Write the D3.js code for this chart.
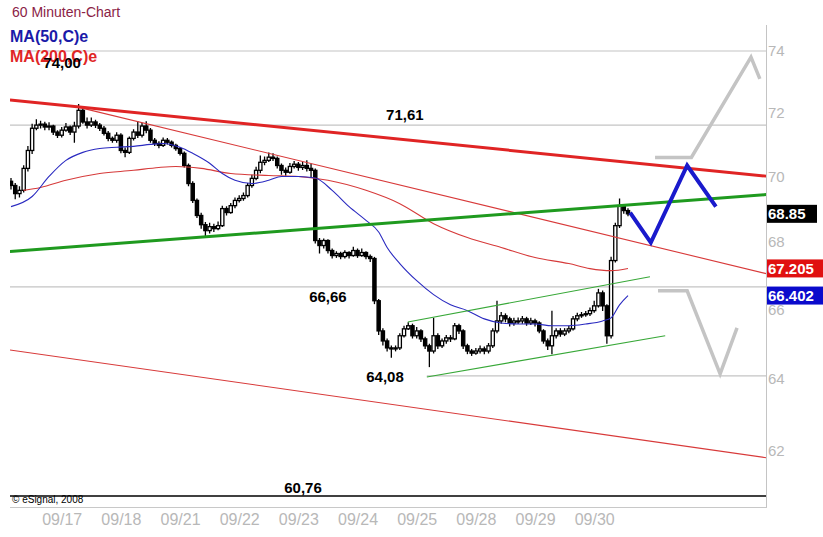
<!DOCTYPE html>
<html><head><meta charset="utf-8">
<script src="https://cdn.jsdelivr.net/npm/d3@7"></script>
<style>body{margin:0;background:#fff}svg{display:block}</style>
</head><body><svg id="c" width="823" height="537"></svg>
<script>
// ---------- DATA ----------
const firstOpen = 69.85;
const closes = [69.72,69.47,69.57,70.25,70.81,71.51,71.61,71.64,71.55,71.58,
71.39,71.29,71.45,71.55,71.39,71.58,72.08,71.71,71.61,71.71,
71.61,71.51,71.35,71.19,71.13,71.29,70.81,70.75,71.19,71.39,
71.29,71.58,71.45,71.13,71.03,70.97,71.13,71.07,70.97,70.87,
70.72,70.34,69.78,69.26,68.80,68.52,68.34,68.46,68.40,68.49,
69.01,68.89,69.10,69.26,69.32,69.41,69.72,69.94,70.19,70.44,
70.50,70.60,70.56,70.34,70.19,70.13,70.31,70.38,70.28,70.34,
70.25,70.19,68.04,67.89,68.04,67.74,67.59,67.65,67.56,67.68,
67.59,67.74,67.59,67.68,67.56,67.50,66.25,65.37,65.08,64.88,
64.85,64.88,65.23,65.43,65.52,65.23,65.37,65.14,64.94,64.79,
65.23,64.94,65.08,65.17,65.14,65.52,65.37,64.94,64.79,64.73,
64.79,64.85,64.79,64.94,65.37,65.66,65.81,65.72,65.60,65.66,
65.66,65.72,65.60,65.66,65.60,65.37,65.08,64.94,65.23,65.37,
65.28,65.37,65.43,65.72,65.81,65.84,65.87,65.96,66.10,66.48,
66.10,65.23,67.44,68.49,69.10,68.95,68.85];
const highs = [69.95,69.80,69.70,70.35,70.95,71.65,71.80,71.75,71.72,71.70,
71.62,71.45,71.55,71.68,71.60,71.72,72.28,72.20,71.85,71.85,
71.78,71.68,71.58,71.42,71.25,71.38,71.35,70.90,71.25,71.48,
71.73,71.68,71.73,71.52,71.20,71.10,71.22,71.20,71.12,71.02,
70.92,70.78,70.40,69.85,69.32,68.88,68.60,68.58,68.55,68.62,
69.10,69.08,69.18,69.35,69.42,69.50,69.80,70.05,70.30,70.65,
70.62,70.75,70.72,70.62,70.40,70.28,70.42,70.48,70.45,70.45,
70.50,70.40,70.25,68.12,68.10,68.08,67.80,67.72,67.70,67.75,
67.72,67.85,67.80,67.80,67.72,67.62,67.55,66.30,65.45,65.15,
64.95,64.95,65.30,65.52,65.62,65.58,65.48,65.42,65.20,65.00,
65.75,65.30,65.15,65.25,65.25,65.60,65.58,65.42,65.00,64.85,
64.88,64.95,64.92,65.02,65.45,66.25,65.92,65.88,65.78,65.75,
65.76,65.80,65.78,65.75,65.72,65.65,65.42,65.15,65.96,65.45,
65.45,65.45,65.52,65.80,65.90,65.92,65.95,66.05,66.25,66.60,
66.55,66.15,67.55,68.58,69.32,69.15,69.02];
const lows = [69.60,69.30,69.35,69.50,70.15,70.70,71.45,71.50,71.45,71.45,
71.30,71.20,71.22,71.40,71.30,71.05,71.50,71.65,71.50,71.55,
71.52,71.42,71.28,71.10,71.05,71.05,70.72,70.60,70.70,71.12,
71.20,71.22,71.35,71.05,70.95,70.88,70.92,71.00,70.90,70.80,
70.65,70.28,69.70,69.18,68.72,68.40,68.13,68.25,68.30,68.35,
68.45,68.80,68.85,69.02,69.20,69.25,69.35,69.65,69.88,70.10,
70.35,70.45,70.48,70.25,70.05,70.02,70.08,70.25,70.18,70.20,
70.15,69.95,67.95,67.65,67.80,67.65,67.50,67.52,67.48,67.50,
67.50,67.55,67.52,67.55,67.48,67.40,66.15,65.25,64.95,64.78,
64.60,64.78,64.82,65.18,65.40,65.15,65.15,65.05,64.85,64.33,
64.72,64.85,64.88,65.00,65.05,65.10,65.28,64.85,64.70,64.65,
64.68,64.72,64.70,64.72,64.88,65.30,65.58,65.62,65.50,65.52,
65.57,65.58,65.52,65.54,65.50,65.30,65.00,64.82,64.70,65.15,
65.20,65.22,65.30,65.38,65.65,65.75,65.78,65.80,65.90,66.05,
65.95,65.00,65.15,67.38,68.42,68.85,68.78];

const dayLabels = ["09/17","09/18","09/21","09/22","09/23","09/24","09/25","09/28","09/29","09/30"];
const dayLabelIdx = [12,26,40,54,68,82,96,110,124,138];
const yTicks = [74,72,70,68,66,64,62];

const ma50Idx = [0,5,9,13,17,21,25,29,33,36,40,43,47,50,53,57,61,64,68,72,76,80,84,87,89,92,96,100,104,108,112,116,120,124,128,132,136,140,142,144,146];
const ma50 = [69.07,69.38,70.00,70.50,70.75,70.87,70.91,70.94,71.00,71.03,70.91,70.72,70.41,70.09,69.88,69.78,69.88,70.00,70.00,69.95,69.57,69.07,68.65,68.30,67.83,67.35,66.84,66.43,66.13,65.96,65.72,65.60,65.57,65.57,65.52,65.52,65.57,65.66,65.75,66.13,66.40];
const ma200Idx = [3,7,13,21,29,35,39,45,52,61,68,75,84,92,100,108,116,124,132,137,142,146];
const ma200 = [69.57,69.66,69.88,70.09,70.19,70.28,70.31,70.25,70.09,70.03,70.00,69.88,69.57,69.16,68.55,68.13,67.83,67.53,67.35,67.20,67.14,67.205];

// trend lines as [bar index, price]
const redThick = [[-0.24,72.41],[178.7,70.01]];
const redThinUpper = [[15.6,72.19],[178.7,67.05]];
const greenThick = [[-0.24,67.71],[178.7,69.44]];
const redThinLower = [[-0.24,64.82],[178.7,61.80]];
const channelUpper = [[93.9,65.63],[151.2,66.96]];
const channelLower = [[98.4,64.05],[154.8,65.23]];
const blueForecast = [[146.5,68.89],[151.4,67.98],[160.0,70.34],[166.8,69.07]];
const greyUp = [[152.4,70.59],[161.0,70.59],[175.1,73.80],[177.2,73.09]];
const greyDown = [[153.1,66.54],[160.0,66.54],[167.8,64.14],[171.8,65.46]];

const levels = [74.00,71.61,66.66,64.08,60.76];
const levelStart = [-0.24,-0.24,-0.24,98.4,-0.24];
const levelLabels = ["74,00","71,61","66,66","64,08","60,76"];
const levelLabelIdx = [12.1,93.2,75.0,88.5,69.1];

const lastClose = 68.85, lastMa200 = 67.205, lastMa50 = 66.402;

// ---------- CHART ----------
const svg = d3.select("#c");
const x = d3.scaleLinear().domain([0,146]).range([11,628]);
const y = d3.scaleLog().domain([60.76,74]).range([496,51]);
const xEnd = x.invert(766);

svg.append("defs").append("clipPath").attr("id","pc")
  .append("rect").attr("x",10).attr("y",25).attr("width",756.5).attr("height",483);

const plot = svg.append("g").attr("clip-path","url(#pc)");
const line = d3.line().x(d=>x(d[0])).y(d=>y(d[1]));

// level lines
levels.forEach((v,i)=>{
  plot.append("line")
    .attr("x1",x(levelStart[i])).attr("x2",x(xEnd))
    .attr("y1",y(v)).attr("y2",y(v))
    .attr("stroke", v===60.76 ? "#000" : "#c4c4c4")
    .attr("stroke-width", v===60.76 ? 1.5 : 1.2);
});

// candles
const candles = plot.append("g");
closes.forEach((c,i)=>{
  const o = i===0 ? firstOpen : closes[i-1];
  const cx = x(i);
  candles.append("line").attr("x1",cx).attr("x2",cx)
    .attr("y1",y(highs[i])).attr("y2",y(lows[i]))
    .attr("stroke","#000").attr("stroke-width",1.3);
  const top = y(Math.max(o,c)), bot = y(Math.min(o,c));
  candles.append("rect").attr("x",cx-1.6).attr("width",3.2)
    .attr("y",top).attr("height",Math.max(bot-top,1))
    .attr("fill", c>=o ? "#fff" : "#000")
    .attr("stroke","#000").attr("stroke-width",1.3);
});

// moving averages
const curve = d3.line().curve(d3.curveMonotoneX).x(d=>x(d[0])).y(d=>y(d[1]));
plot.append("path").datum(ma200Idx.map((d,i)=>[d,ma200[i]]))
  .attr("d",curve).attr("fill","none").attr("stroke","#d63a3a").attr("stroke-width",1.1);
plot.append("path").datum(ma50Idx.map((d,i)=>[d,ma50[i]]))
  .attr("d",curve).attr("fill","none").attr("stroke","#2a2ac0").attr("stroke-width",1.1);

// trend lines
const drawLine = (data,color,w)=>plot.append("path").datum(data).attr("d",line)
  .attr("fill","none").attr("stroke",color).attr("stroke-width",w)
  .attr("stroke-linejoin","miter");
drawLine(redThinUpper,"#d83a3a",1.1);
drawLine(redThinLower,"#d83a3a",1.1);
drawLine(channelUpper,"#38a838",1.1);
drawLine(channelLower,"#38a838",1.1);
drawLine(redThick,"#e02424",3);
drawLine(greenThick,"#1f9a1f",3);
drawLine(greyUp,"#c4c4c4",3.5);
drawLine(greyDown,"#c4c4c4",3.5);
drawLine(blueForecast,"#1a1acc",4);

// frame
svg.append("line").attr("x1",766.5).attr("x2",766.5).attr("y1",25).attr("y2",508)
  .attr("stroke","#c4c4c4").attr("stroke-width",1);
svg.append("line").attr("x1",10).attr("x2",767).attr("y1",507.5).attr("y2",507.5)
  .attr("stroke","#c8c8c8").attr("stroke-width",1);

// y axis
const ya = svg.append("g").attr("transform","translate(767,0)")
  .call(d3.axisRight(y).tickValues(yTicks).tickFormat(d3.format("d")).tickSize(0).tickPadding(1));
ya.select(".domain").remove();
ya.selectAll("text").attr("fill","#b8b8b8").style("font","15px 'Liberation Sans',Arial,sans-serif");

// x axis
const xa = svg.append("g").attr("transform","translate(0,508)")
  .call(d3.axisBottom(x).tickValues(dayLabelIdx).tickFormat((d,i)=>dayLabels[i]).tickSize(0).tickPadding(6));
xa.select(".domain").remove();
xa.selectAll("text").attr("fill","#b8b8b8").style("font","16px 'Liberation Sans',Arial,sans-serif");

// value boxes
const boxes = [[lastClose,"68.85","#000",50],[lastMa200,"67.205","#e01010",57],[lastMa50,"66.402","#0a0acc",57]];
boxes.forEach(b=>{
  const yy = y(b[0]);
  svg.append("rect").attr("x",767).attr("y",yy-9).attr("width",b[3]).attr("height",18).attr("fill",b[2]);
  svg.append("text").attr("x",768).attr("y",yy).attr("dominant-baseline","central")
    .attr("fill","#fff").style("font","bold 15px 'Liberation Sans',Arial,sans-serif").text(b[1]);
});

// legend
svg.append("text").attr("x",12).attr("y",17).attr("fill","#8b2346")
  .style("font","14px 'Liberation Sans',Arial,sans-serif").text("60 Minuten-Chart");
svg.append("text").attr("x",10).attr("y",42).attr("fill","#1a1aa8")
  .style("font","bold 16px 'Liberation Sans',Arial,sans-serif").text("MA(50,C)e");
svg.append("text").attr("x",10).attr("y",62).attr("fill","#e02626")
  .style("font","bold 16px 'Liberation Sans',Arial,sans-serif").text("MA(200,C)e");

// level labels
const labelDy = [11,-11,10,1,-9];
levels.forEach((v,i)=>{
  svg.append("text").attr("x",x(levelLabelIdx[i])).attr("y",y(v)+labelDy[i])
    .attr("text-anchor","middle").attr("dominant-baseline","central")
    .attr("fill","#000").style("font","bold 15px 'Liberation Sans',Arial,sans-serif")
    .text(levelLabels[i]);
});

svg.append("text").attr("x",12).attr("y",503).attr("fill","#000")
  .style("font","10px 'Liberation Sans',Arial,sans-serif").text("© eSignal, 2008");
</script></body></html>
